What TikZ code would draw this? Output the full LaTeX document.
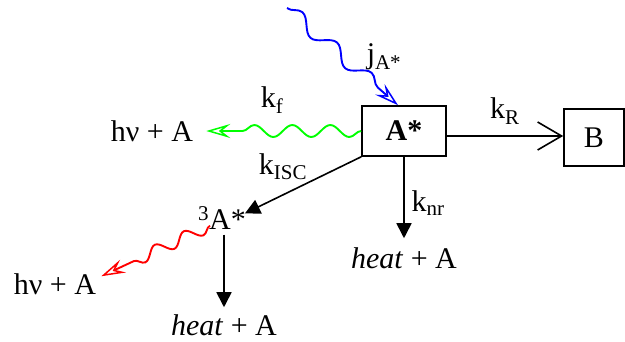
\documentclass[tikz,border=0pt]{standalone}
\usepackage{fontspec}
\setmainfont{Liberation Serif}
\usetikzlibrary{arrows.meta,decorations.pathmorphing}
\begin{document}
\begin{tikzpicture}[x=1pt,y=-1pt,
  every node/.style={font=\fontsize{30}{34}\selectfont, inner sep=1pt},
  lbl/.style={},
  boxnode/.style={draw, line width=1.6pt, inner sep=0pt},
  conn/.style={line width=1.6pt},
  tri/.style={conn, -{Triangle[length=15pt,width=15pt]}},
  wavy/.style={line width=1.9pt, decorate, decoration={snake, segment length=#1, amplitude=6pt, post length=20pt}},
  wavytip/.style={-{Stealth[open, length=24pt, width=14pt, inset=9pt, line width=1.5pt]}}
]
\useasboundingbox (0,0) rectangle (625,341);
\node[boxnode, minimum width=84pt, minimum height=50pt] (Astar) at (404,131) {\textbf{A*}};
\node[boxnode, minimum width=60pt, minimum height=57pt] (B) at (594,137.5) {B};
\node (hv1) at (152,131) {hν + A};
\node (t3) at (222,218) {\textsuperscript{3}A*};
\node (hv2) at (55,284) {hν + A};
\node (heat1) at (404,258) {\textit{heat} + A};
\node (heat2) at (224,325) {\textit{heat} + A};
\coordinate (jstart) at (287,8);
\node[lbl] (lj) at (384,57) {j\textsubscript{A*}};
\node[lbl] (lf) at (272,100) {k\textsubscript{f}};
\node[lbl] (lR) at (505,111) {k\textsubscript{R}};
\node[lbl] (lisc) at (283,167) {k\textsubscript{ISC}};
\node[lbl] (lnr) at (428,203) {k\textsubscript{nr}};
% blue excitation
\draw[blue, wavy=46pt, wavytip, decoration={amplitude=7pt}] (jstart) -- ([xshift=-6pt]Astar.north);
% green fluorescence
\draw[green, wavy=38pt, wavytip] (Astar.west) -- ([xshift=12pt]hv1.east);
% red phosphorescence
\draw[red, wavy=32pt, wavytip] ([xshift=13pt,yshift=5pt]t3.south west) -- ([xshift=4pt,yshift=-4pt]hv2.north east);
% k_R
\draw[conn, -{Straight Barb[length=24pt,width=28pt,line width=1.6pt]}] (Astar.east |- 0,136) -- (B.west |- 0,136);
% k_ISC
\draw[tri] (Astar.south west) -- ([xshift=-2pt,yshift=-8pt]t3.north east);
% k_nr
\draw[tri] (Astar.south) -- ([yshift=8pt]heat1.north);
% 3A* down
\draw[tri] ([xshift=2pt,yshift=-4pt]t3.south) -- ([yshift=6pt]heat2.north);
\end{tikzpicture}
\end{document}
